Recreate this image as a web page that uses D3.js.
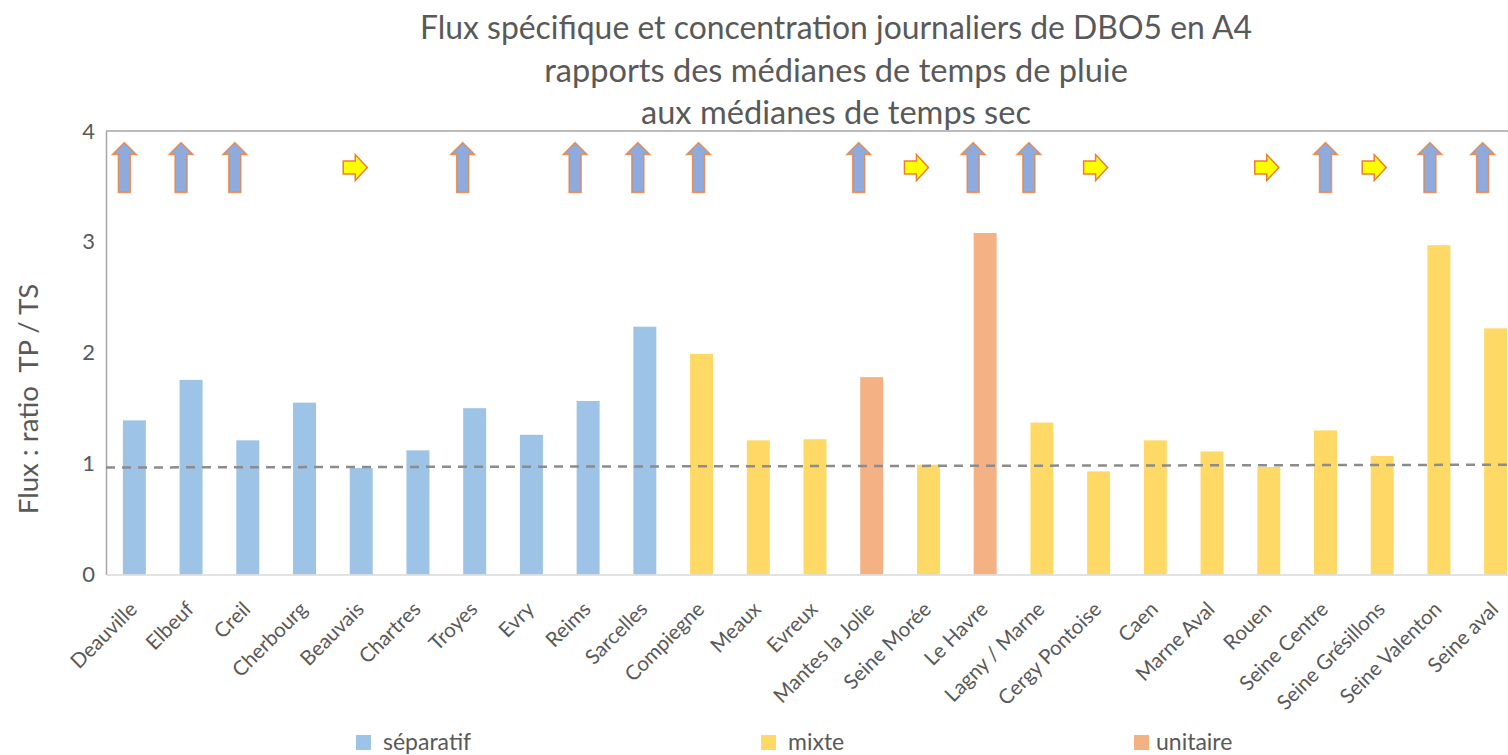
<!DOCTYPE html>
<html>
<head>
<meta charset="utf-8">
<script src="https://cdn.jsdelivr.net/npm/d3@7"></script>
<style>
   html, body { margin: 0; padding: 0; background: #fff; overflow: hidden; }
   svg { display: block; font-family: Lato, "Open Sans", sans-serif; }
   text { fill: #595959; }
</style>
</head>
<body>
<div id="chart"></div>
<script>
const titleLines = [
   "Flux spécifique et concentration journaliers de DBO5 en A4",
   "rapports des médianes de temps de pluie",
   "aux médianes de temps sec"
];
const yLabel = "Flux : ratio\u00a0 TP / TS";
const categories = ["Deauville", "Elbeuf", "Creil", "Cherbourg", "Beauvais", "Chartres", "Troyes", "Evry", "Reims", "Sarcelles", "Compiegne", "Meaux", "Evreux", "Mantes la Jolie", "Seine Morée", "Le Havre", "Lagny / Marne", "Cergy Pontoise", "Caen", "Marne Aval", "Rouen", "Seine Centre", "Seine Grésillons", "Seine Valenton", "Seine aval"];
const ratios = [1.39, 1.755, 1.21, 1.55, 0.96, 1.12, 1.50, 1.26, 1.565, 2.235, 1.99, 1.21, 1.22, 1.78, 0.99, 3.08, 1.37, 0.93, 1.21, 1.11, 0.97, 1.30, 1.07, 2.97, 2.22];
const networks = ["séparatif", "séparatif", "séparatif", "séparatif", "séparatif", "séparatif", "séparatif", "séparatif", "séparatif", "séparatif", "mixte", "mixte", "mixte", "unitaire", "mixte", "unitaire", "mixte", "mixte", "mixte", "mixte", "mixte", "mixte", "mixte", "mixte", "mixte"];
const networkTypes = ["séparatif", "mixte", "unitaire"];
const yTicks = [0, 1, 2, 3, 4];
const upArrows = ["Deauville", "Elbeuf", "Creil", "Troyes", "Reims", "Sarcelles", "Compiegne", "Mantes la Jolie", "Le Havre", "Lagny / Marne", "Seine Centre", "Seine Valenton", "Seine aval"];
const rightArrows = ["Beauvais", "Seine Morée", "Cergy Pontoise", "Rouen", "Seine Grésillons"];
const trendLine = [0.965, 0.99];

const width = 1508, height = 755;
const margin = { top: 131, left: 106, bottom: 180 };

// the arrows were placed by hand on the original, not centred on the bars
const arrowOffset = { "Deauville": -10, "Elbeuf": -10, "Creil": -13, "Beauvais": -6, "Troyes": -12, "Reims": -13, "Sarcelles": -7, "Compiegne": -3, "Mantes la Jolie": -13, "Seine Morée": -12, "Le Havre": -12, "Lagny / Marne": -13, "Cergy Pontoise": -3, "Rouen": -2, "Seine Centre": 0, "Seine Grésillons": -8, "Seine Valenton": -9, "Seine aval": -13 };

const colors = d3.scaleOrdinal().domain(networkTypes).range(["#9dc3e6", "#ffd966", "#f4b183"]);

const svg = d3.select("#chart").append("svg")
   .attr("width", width)
   .attr("height", height);

const x = d3.scaleBand().domain(categories).range([margin.left, 1524]).paddingInner(0.595).paddingOuter(0.2975);
const y = d3.scaleLinear().domain([0, 4]).range([height - margin.bottom - 0.5, margin.top]);

// Title
svg.append("g").selectAll("text")
   .data(titleLines)
   .join("text")
   .attr("x", 836)
   .attr("y", (d, i) => 39 + i * 42.5)
   .attr("text-anchor", "middle")
   .style("font-size", (d, i) => i === 0 ? "31.9px" : "32.6px")
   .text(d => d);

// Top border of the plot
svg.append("line")
   .attr("x1", margin.left).attr("x2", width)
   .attr("y1", y(4)).attr("y2", y(4))
   .attr("stroke", "#a6a6a6").attr("stroke-width", 1.5);

// Y axis
const yAxis = svg.append("g")
   .attr("transform", "translate(" + margin.left + ",0)")
   .call(d3.axisLeft(y).tickValues(yTicks).tickFormat(d3.format("d")).tickSize(0).tickPadding(11));
yAxis.select(".domain").attr("stroke", "#a6a6a6").attr("stroke-width", 1.5);
yAxis.selectAll("text").style("font-size", "22px").style("font-family", "Lato, sans-serif");

// Bars
svg.append("g").selectAll("rect")
   .data(categories)
   .join("rect")
   .attr("x", d => x(d))
   .attr("y", (d, i) => y(ratios[i]))
   .attr("width", x.bandwidth())
   .attr("height", (d, i) => y(0) - y(ratios[i]))
   .attr("fill", (d, i) => colors(networks[i]));

// X axis
const xAxis = svg.append("g")
   .attr("transform", "translate(0," + y(0) + ")")
   .call(d3.axisBottom(x).tickSize(0).tickPadding(0));
xAxis.select(".domain").attr("stroke", "#d9d9d9").attr("stroke-width", 1.5);
xAxis.selectAll("text")
   .style("font-size", "20.5px")
   .style("font-family", "Lato, sans-serif")
   .attr("text-anchor", "end")
   .attr("dy", 0)
   .attr("transform", "translate(4,36) rotate(-45)");

// Dashed reference line
svg.append("line")
   .attr("x1", margin.left).attr("x2", width)
   .attr("y1", y(trendLine[0])).attr("y2", y(trendLine[1]))
   .attr("stroke", "#8c8c8c")
   .attr("stroke-width", 2.5)
   .attr("stroke-dasharray", "9 7");

// Arrows, outlines drawn around the local origin
const upPath = "M0,-25 L12,-13 L6,-13 L6,25 L-6,25 L-6,-13 L-12,-13 Z";
const rightPath = "M12,0 L0,13 L0,6.5 L-12,6.5 L-12,-6.5 L0,-6.5 L0,-13 Z";

svg.append("g").selectAll("path")
   .data(upArrows)
   .join("path")
   .attr("d", upPath)
   .attr("transform", d => "translate(" + (x(d) + x.bandwidth() / 2 + (arrowOffset[d] || 0)) + "," + y(3.67) + ")")
   .attr("fill", "#8faadc")
   .attr("stroke", "#ed7d31")
   .attr("stroke-opacity", 0.75)
   .attr("stroke-width", 1.5);

svg.append("g").selectAll("path")
   .data(rightArrows)
   .join("path")
   .attr("d", rightPath)
   .attr("transform", d => "translate(" + (x(d) + x.bandwidth() / 2 + (arrowOffset[d] || 0)) + "," + y(3.67) + ")")
   .attr("fill", "#ffff00")
   .attr("stroke", "#ed7d31")
   .attr("stroke-width", 1.5);

// Legend
const legendX = d3.scaleOrdinal().domain(networkTypes).range([356, 761, 1134]);
const legend = svg.append("g").selectAll("g")
   .data(networkTypes)
   .join("g")
   .attr("transform", d => "translate(" + legendX(d) + ",735)");

legend.append("rect")
   .attr("width", 15)
   .attr("height", 15)
   .attr("fill", d => colors(d));

legend.append("text")
   .attr("x", (d, i) => i === 2 ? 22 : 27)
   .attr("y", 15)
   .style("font-size", "23px")
   .text(d => d);

// Y axis title
svg.append("text")
   .attr("transform", "translate(38,399) rotate(-90)")
   .attr("text-anchor", "middle")
   .style("font-size", "27.6px")
   .text(yLabel);
</script>
</body>
</html>
